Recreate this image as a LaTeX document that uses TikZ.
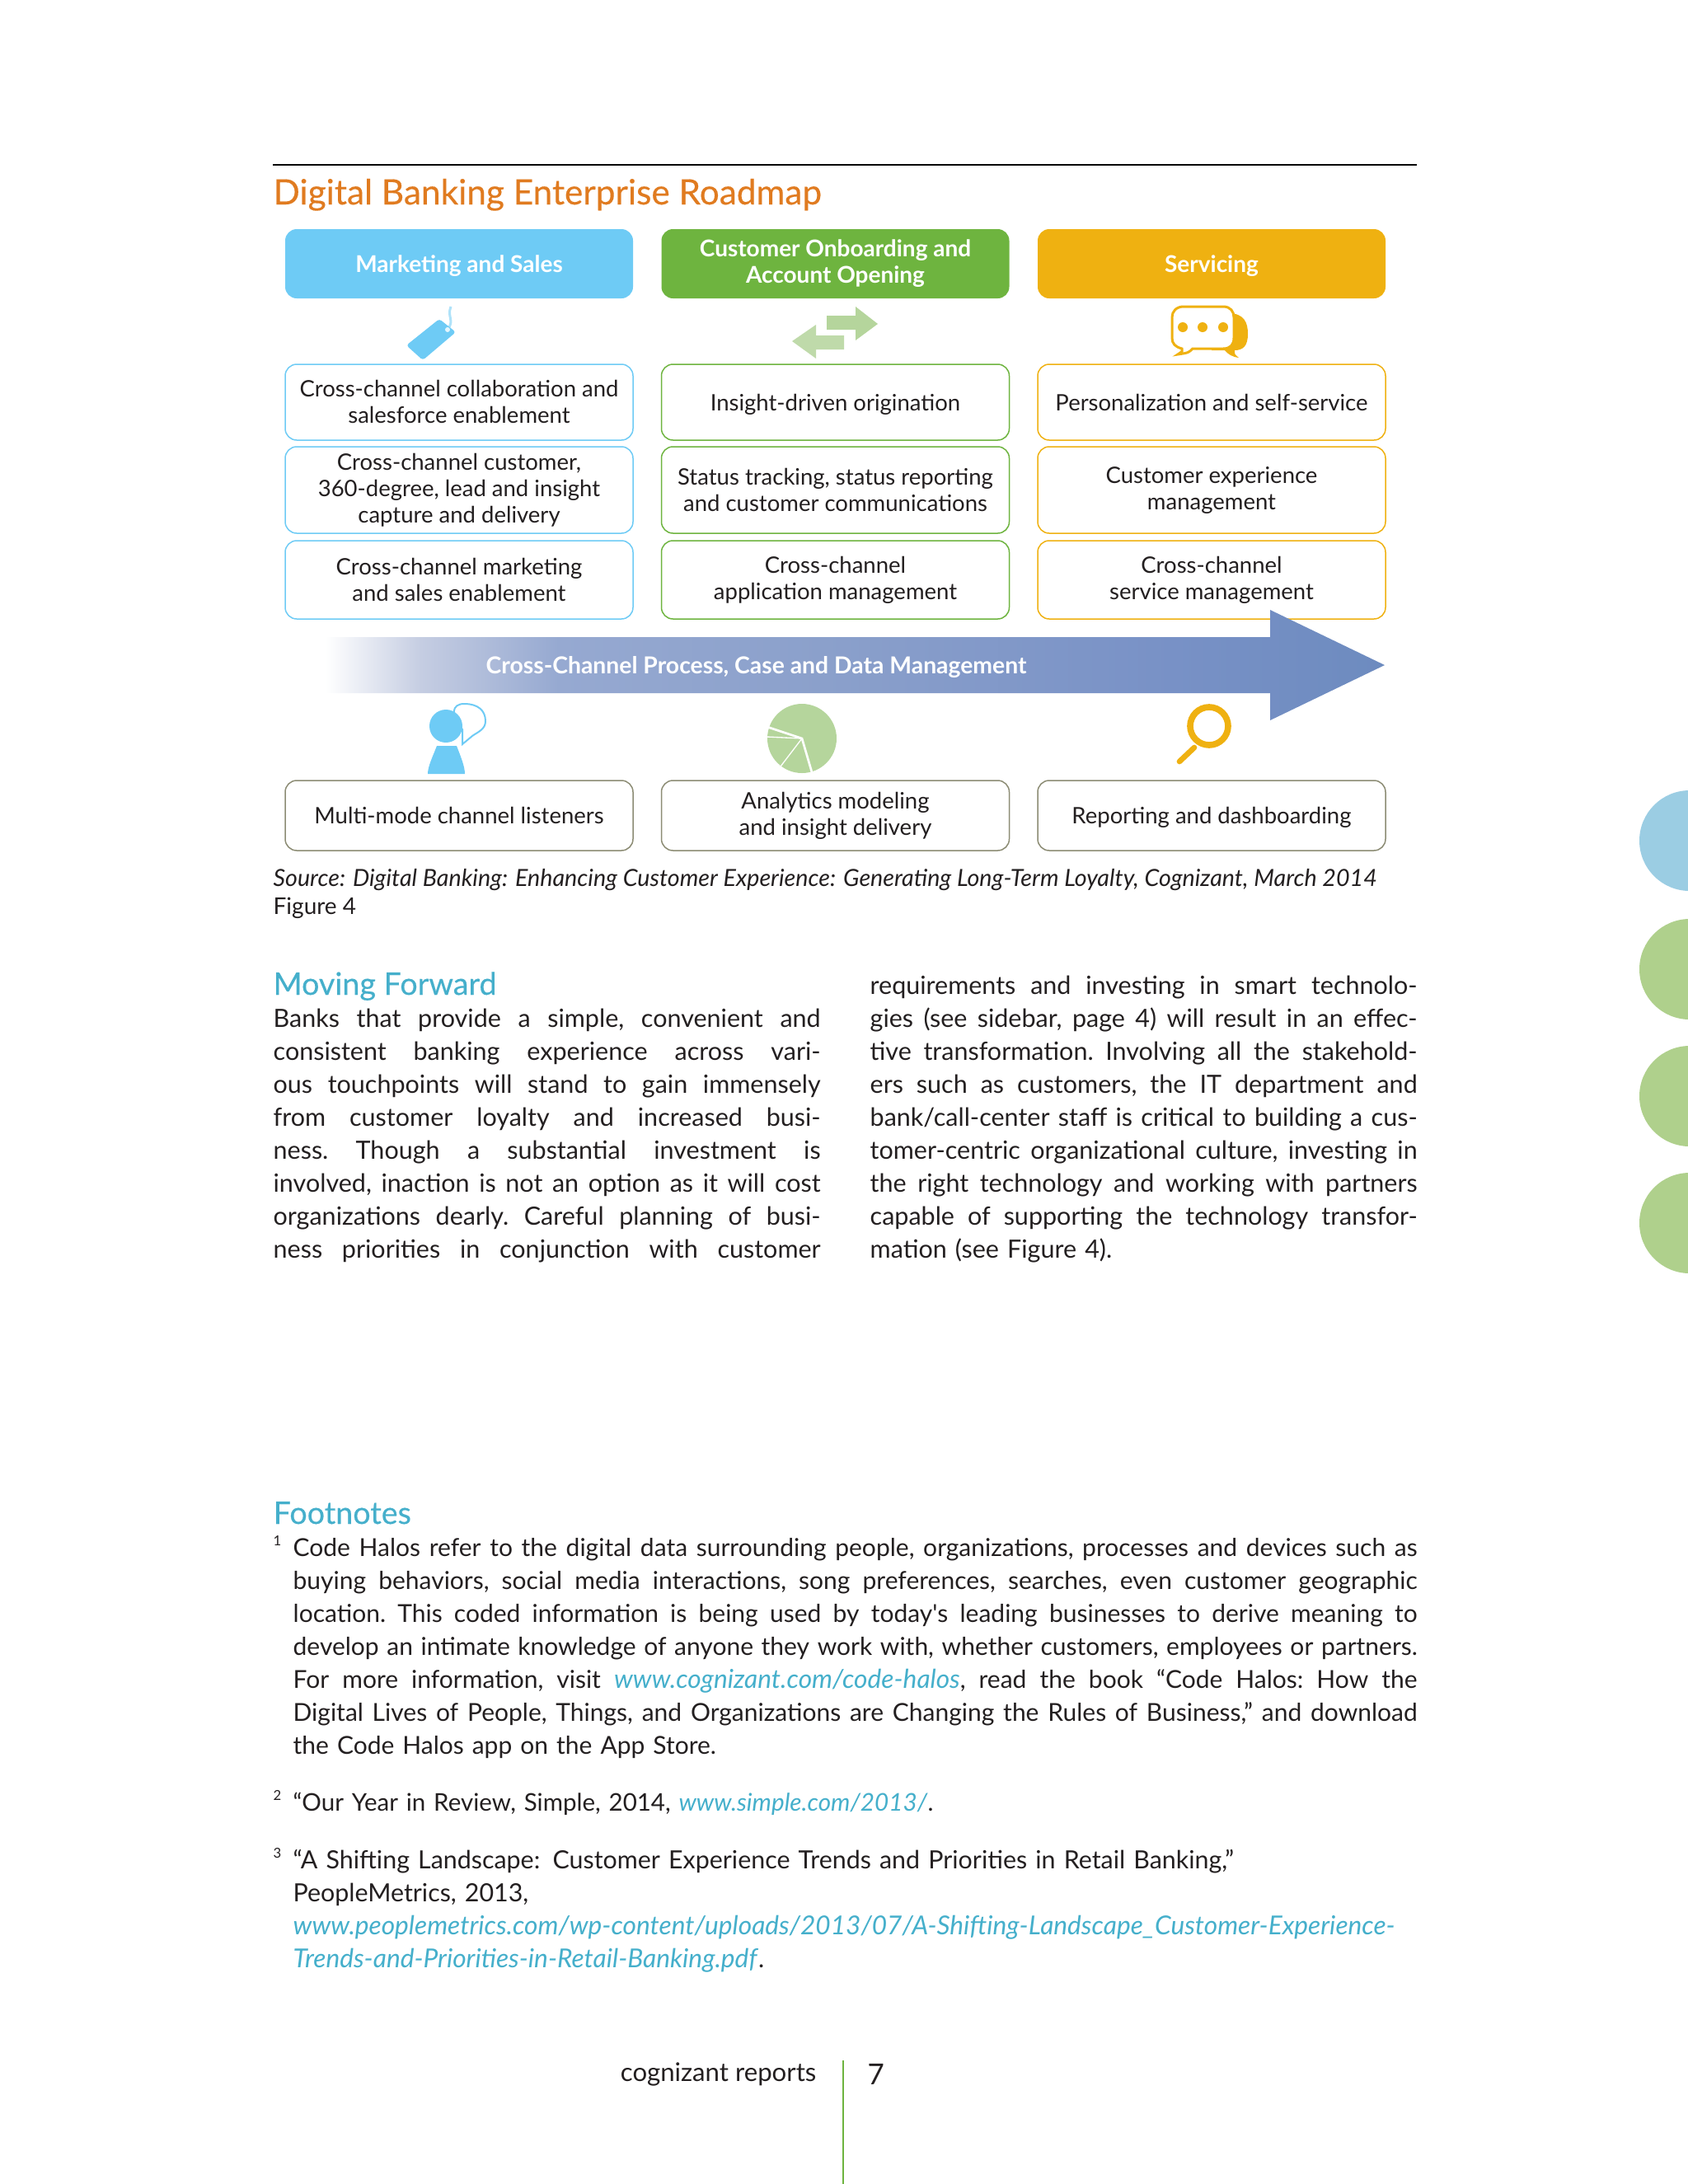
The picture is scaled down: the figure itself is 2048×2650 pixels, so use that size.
\documentclass[tikz,border=0pt]{standalone}
\usepackage{fontspec}
\setmainfont{Lato}
\newfontfamily\rmaphead[FakeBold=0.3]{Lato}
\usepackage{tikz}
\definecolor{rmapblue}{HTML}{6ECBF5}
\definecolor{rmapgreen}{HTML}{6EB43F}
\definecolor{rmapgold}{HTML}{EFB111}
\definecolor{rmapolive}{HTML}{8C8C74}
\definecolor{rmapsage}{HTML}{B5D59C}
\definecolor{rmapsagelt}{HTML}{BFDAAA}
\definecolor{rmaporange}{HTML}{E07B20}
\definecolor{rmapteal}{HTML}{45AFCB}
\definecolor{rmapink}{HTML}{231F20}
\definecolor{rmapdot}{HTML}{9BCDE3}
\definecolor{rmapdotgreen}{HTML}{AFD08C}
\definecolor{rmapfadea}{HTML}{C5CDE2}
\definecolor{rmapfadeb}{HTML}{96A9D1}
\definecolor{rmapfadec}{HTML}{8BA0CB}
\definecolor{rmapfaded}{HTML}{7891C6}
\definecolor{rmapfadee}{HTML}{6D8BBF}
\pgfdeclarehorizontalshading{rmapfade}{100bp}{color(0bp)=(white); color(25bp)=(white);
  color(29.5bp)=(rmapfadea); color(36bp)=(rmapfadeb); color(48.5bp)=(rmapfadec);
  color(65bp)=(rmapfaded); color(75bp)=(rmapfadee); color(100bp)=(rmapfadee)}
\newcommand{\jline}[1]{{\frenchspacing\spaceskip=0pt\xspaceskip=0pt\makebox[\linewidth][s]{\strut #1}}\\}
\newcommand{\lastline}[1]{\strut #1}
\newcommand{\rmaplink}[2][9.5]{\textcolor{rmapteal}{\fontsize{#1}{12}\selectfont\textit{#2}}}
\newcommand{\toprule}{\rule{0pt}{9pt}}
\newcommand{\botrule}{\rule[-0.3pt]{0pt}{0.3pt}}
\newcommand{\onebotrule}{\rule[-2.8pt]{0pt}{2.8pt}}
\begin{document}
\begin{tikzpicture}[
  x=0.3pt, y=-0.3pt,
  font=\fontsize{8.25}{9.6}\selectfont, text=rmapink,
  box/.style={draw, rounded corners=4.2pt, line width=0.45pt, align=center, fill=white,
              minimum width=126.6pt, inner sep=0pt,
              execute at begin node=\toprule, execute at end node=\botrule},
  oneline/.style={execute at end node=\onebotrule},
  headbox/.style={box, draw=none, text=white, minimum height=25.2pt,
                  font=\fontsize{8.4}{9.6}\selectfont\bfseries},
  bluebox/.style={box, draw=rmapblue},
  greenbox/.style={box, draw=rmapgreen},
  goldbox/.style={box, draw=rmapgold},
  basebox/.style={box, draw=rmapolive, minimum height=25.5pt},
  para/.style={anchor=north west, inner sep=0pt, align=left,
               font=\fontsize{9.15}{12}\selectfont},
  notepara/.style={para, text width=409.2pt, font=\fontsize{9}{12}\selectfont},
  heading/.style={anchor=base west, inner sep=0pt, text=rmapteal,
                  font=\fontsize{11.3}{14}\selectfont\rmaphead},
  notemark/.style={anchor=base west, inner sep=0pt, font=\fontsize{5}{6}\selectfont}
]
\useasboundingbox (0,0) rectangle (2048,2650);
\clip (0,0) rectangle (2048,2650);
\fill[rmapdot] (2050,1020) circle (61);
\fill[rmapdotgreen] (2050,1176) circle (61);
\fill[rmapdotgreen] (2050,1330) circle (61);
\fill[rmapdotgreen] (2050,1484) circle (61);
\draw[line width=0.85pt, black] (331,200) -- (1719,200);
\node[anchor=base west, inner sep=0pt, text=rmaporange, font=\fontsize{12.7}{14}\selectfont\rmaphead] (title) at (331,248)
  {Digital Banking Enterprise Roadmap};
\node[headbox, oneline, fill=rmapblue] (marketing) at (557,320) {Marketing and Sales};
\node[headbox, fill=rmapgreen] (onboarding) at (1013.5,320) {Customer Onboarding and\\Account Opening};
\node[headbox, oneline, fill=rmapgold] (servicing) at (1470,320) {Servicing};
\node[bluebox, minimum height=27.6pt] (collab) at (557,488) {Cross-channel collaboration and\\salesforce enablement};
\node[bluebox, minimum height=31.5pt] (capture) at (557,594.5) {Cross-channel customer,\\360-degree, lead and insight\\capture and delivery};
\node[bluebox, minimum height=28.5pt] (mktmgmt) at (557,703.5) {Cross-channel marketing\\and sales enablement};
\node[greenbox, oneline, minimum height=27.6pt] (origin) at (1013.5,488) {Insight-driven origination};
\node[greenbox, minimum height=31.5pt] (status) at (1013.5,594.5) {Status tracking, status reporting\\and customer communications};
\node[greenbox, minimum height=28.5pt] (appmgmt) at (1013.5,703.5) {Cross-channel\\application management};
\node[goldbox, oneline, minimum height=27.6pt] (personal) at (1470,488) {Personalization and self-service};
\node[goldbox, minimum height=31.5pt] (experience) at (1470,594.5) {Customer experience\\management};
\node[goldbox, minimum height=28.5pt] (svcmgmt) at (1470,703.5) {Cross-channel\\service management};
\node[basebox, oneline] (listeners) at (557,989.5) {Multi-mode channel listeners};
\node[basebox] (analytics) at (1013.5,989.5) {Analytics modeling\\and insight delivery};
\node[basebox, oneline] (reporting) at (1470,989.5) {Reporting and dashboarding};
\shade[shading=rmapfade] (395,773) -- (1541,773) -- (1541,740) -- (1680,807) -- (1541,874) -- (1541,841) -- (395,841) -- cycle;
\node[text=white, font=\fontsize{8.5}{9.6}\selectfont\bfseries, execute at begin node=\toprule, oneline] (process) at (917.5,807) {Cross-Channel Process, Case and Data Management};
% tag
\draw[rmapblue!55, line width=0.9pt] (543,400) .. controls (552,388) and (542,385) .. (547,372);
\fill[rmapblue, rounded corners=1pt] (533,387) -- (553,403) -- (513,437) -- (493,419) -- cycle;
\fill[white!80!rmapblue] (543,400) circle (3);
% arrows
\fill[rmapsage] (1003,383) -- (1038,383) -- (1038,372) -- (1065,393) -- (1038,413) -- (1038,400) -- (1003,400) -- cycle;
\fill[rmapsagelt] (1024,407) -- (990,407) -- (990,394) -- (961,414) -- (990,435) -- (990,424) -- (1024,424) -- cycle;
% chat
\fill[rmapgold] (1490,380) .. controls (1510,380) and (1514,392) .. (1514,405) .. controls (1514,420) and (1508,425) .. (1498,425)
  .. controls (1498,430) .. (1503,434) .. controls (1495,433) and (1490,430) .. (1486,425) -- (1470,425) -- cycle;
\draw[rmapgold, fill=white, line width=0.9pt] (1436,372) -- (1484,372) .. controls (1493,372) and (1497,378) .. (1497,385) -- (1497,410)
  .. controls (1497,418) and (1493,423) .. (1484,423) -- (1447,423) .. controls (1442,428) .. (1429,430)
  .. controls (1435,426) .. (1434,423) .. controls (1426,421) and (1422,417) .. (1422,410) -- (1422,385)
  .. controls (1422,378) and (1427,372) .. (1436,372) -- cycle;
\fill[rmapgold] (1435,397) circle (6) (1459,397) circle (6) (1484,397) circle (6);
% person
\draw[rmapblue, line width=0.6pt, fill=white] (561,903) -- (561,885) .. controls (546,868) and (548,854) .. (563,854)
  .. controls (580,854) and (589,862) .. (589,875) .. controls (589,885) and (580,888) .. (573,893) -- cycle;
\fill[rmapblue] (541,881) circle (20);
\fill[rmapblue] (530,905) -- (554,905) .. controls (559,918) and (564,930) .. (564,939) -- (519,939) .. controls (519,930) and (525,918) .. (530,905) -- cycle;
% pie
\fill[rmapsage] (973,896) circle (42);
\draw[white, line width=0.8pt] (931,882) -- (973,896) -- (985,937);
\draw[white, line width=0.4pt] (930,894) -- (973,896) -- (947,930);
% glass
\draw[rmapgold, line width=2.3pt] (1467,881) circle (23);
\draw[rmapgold, line width=2pt, line cap=round] (1449,907) -- (1431,924);
\node[anchor=base west, inner sep=0pt, font=\fontsize{8.6}{12}\selectfont\itshape] (source) at (331,1075)
  {Source: Digital Banking: Enhancing Customer Experience: Generating Long-Term Loyalty, Cognizant, March 2014};
\node[anchor=base west, inner sep=0pt, font=\fontsize{8.4}{12}\selectfont] (figure) at (331,1109) {Figure 4};
\node[heading] (forward) at (331,1207) {Moving Forward};
\node[para, text width=199.2pt] (left) at (331,1218) {%
\jline{Banks that provide a simple, convenient and}
\jline{consistent banking experience across vari-}
\jline{ous touchpoints will stand to gain immensely}
\jline{from customer loyalty and increased busi-}
\jline{ness. Though a substantial investment is}
\jline{involved, inaction is not an option as it will cost}
\jline{organizations dearly. Careful planning of busi-}
\jline{ness priorities in conjunction with customer}};
\node[para, text width=199.2pt] (right) at (1055,1178) {%
\jline{requirements and investing in smart technolo-}
\jline{gies (see sidebar, page 4) will result in an effec-}
\jline{tive transformation. Involving all the stakehold-}
\jline{ers such as customers, the IT department and}
\jline{bank/call-center staff is critical to building a cus-}
\jline{tomer-centric organizational culture, investing in}
\jline{the right technology and working with partners}
\jline{capable of supporting the technology transfor-}
\lastline{mation (see Figure 4).}};
\node[heading] (notes) at (331,1849) {Footnotes};
\node[notemark] (markone) at (331,1875) {1};
\node[notepara] (noteone) at (355,1860) {%
\jline{Code Halos refer to the digital data surrounding people, organizations, processes and devices such as}
\jline{buying behaviors, social media interactions, song preferences, searches, even customer geographic}
\jline{location. This coded information is being used by today\textquotesingle s leading businesses to derive meaning to}
\jline{develop an intimate knowledge of anyone they work with, whether customers, employees or partners.}
\jline{For more information, visit \rmaplink{www.cognizant.com/code-halos}, read the book ``Code Halos: How the}
\jline{Digital Lives of People, Things, and Organizations are Changing the Rules of Business,'' and download}
\lastline{the Code Halos app on the App Store.}};
\node[notemark] (marktwo) at (331,2184) {2};
\node[notepara, font=\fontsize{8.85}{12}\selectfont] (notetwo) at (355,2169) {%
\lastline{``Our Year in Review, Simple, 2014, \rmaplink[8.9]{www.simple.com/2013/}.}};
\node[notemark] (markthree) at (331,2254) {3};
\node[notepara, font=\fontsize{9.12}{12}\selectfont] (notethree) at (355,2239) {%
\strut``A Shifting Landscape: Customer Experience Trends and Priorities in Retail Banking,''\\
\strut PeopleMetrics, 2013,\\
\strut\rmaplink{www.peoplemetrics.com/wp-content/uploads/2013/07/A-Shifting-Landscape\_Customer-Experience-}\\
\lastline{\rmaplink{Trends-and-Priorities-in-Retail-Banking.pdf}.}};
\node[anchor=base east, inner sep=0pt, font=\fontsize{9.35}{12}\selectfont] (footer) at (991,2525) {cognizant reports};
\node[anchor=base west, inner sep=0pt, font=\fontsize{10.5}{12}\selectfont] (page) at (1052,2529) {7};
\coordinate (ruletop) at (1023,2500);
\coordinate (rulebot) at (1023,2650);
\draw[rmapgreen, line width=0.4pt] (ruletop) -- (rulebot);
\end{tikzpicture}
\end{document}
